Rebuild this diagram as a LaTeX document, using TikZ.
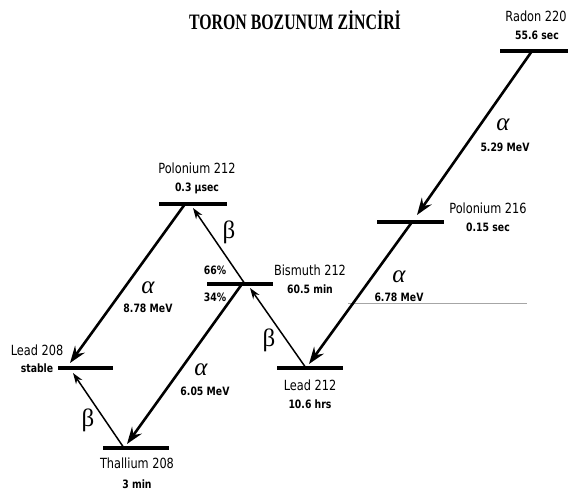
\documentclass[tikz,border=0pt]{standalone}
\usepackage{fontspec}
\setmainfont{DejaVu Sans Condensed}
\newfontfamily\titlefont{Liberation Serif}
\newfontfamily\greekfont{Liberation Serif}
\usetikzlibrary{arrows.meta}
\tikzset{
  levelbar/.style={line width=4pt},
  alphaarrow/.style={line width=2.6pt,-{Stealth[length=17pt,width=12pt,inset=6pt]}},
  betaarrow/.style={line width=1.5pt,-{Stealth[length=11pt,width=7.5pt,inset=3.5pt]}},
  nm/.style={inner sep=0pt,xscale=0.9,font=\fontsize{14}{14}\selectfont},
  sub/.style={inner sep=0pt,xscale=0.9,font=\bfseries\fontsize{11.5}{12}\selectfont},
  gl/.style={inner sep=0pt,font=\greekfont\fontsize{25}{25}\selectfont},
}
\begin{document}
\begin{tikzpicture}[x=1pt,y=-1pt]
\useasboundingbox (0,0) rectangle (568,495);
% title
\node[inner sep=0pt,font=\titlefont\bfseries\fontsize{22}{22}\selectfont,xscale=0.72] (title) at (295,20) {TORON BOZUNUM ZİNCİRİ};
% level bars
\draw[levelbar] (500,51) -- (568,51);
\draw[levelbar] (377,222) -- (444,222);
\draw[levelbar] (159,204) -- (227,204);
\draw[levelbar] (207,284) -- (273,284);
\draw[levelbar] (277,368) -- (343,368);
\draw[levelbar] (58,368) -- (113,368);
\draw[levelbar] (103,448) -- (169,448);
% thin gray line
\draw[gray!70,line width=0.6pt] (348,303) -- (527,303);
% connector end points
\coordinate (rnS) at (532,51);
\coordinate (po216T) at (417,215);
\coordinate (po216S) at (412,222);
\coordinate (pb212T) at (309,364);
\coordinate (pb212S) at (306,368);
\coordinate (bi212T) at (250,288);
\coordinate (bi212S) at (245,284);
\coordinate (bi212A) at (242,284);
\coordinate (po212T) at (193,208);
\coordinate (po212S) at (185,204);
\coordinate (tlT) at (127,444);
\coordinate (tlS) at (124,448);
\coordinate (pb208T) at (70,363);
\coordinate (pb208B) at (73,373);
% arrows
\draw[alphaarrow] (rnS) -- (po216T);
\draw[alphaarrow] (po216S) -- (pb212T);
\draw[betaarrow] (pb212S) -- (bi212T);
\draw[betaarrow] (bi212S) -- (po212T);
\draw[alphaarrow] (bi212A) -- (tlT);
\draw[alphaarrow] (po212S) -- (pb208T);
\draw[betaarrow] (tlS) -- (pb208B);
% names
\node[nm] (rn1) at (536,16) {Radon 220};
\node[sub] (rn2) at (537,35) {55.6 sec};
\node[nm] (p216a) at (488,208) {Polonium 216};
\node[sub] (p216b) at (488,227) {0.15 sec};
\node[nm] (p212a) at (197,168) {Polonium 212};
\node[sub] (p212b) at (197,188) {0.3 µsec};
\node[nm] (bia) at (310,270) {Bismuth 212};
\node[sub] (bib) at (310,289) {60.5 min};
\node[sub] (p66) at (215,270) {66\%};
\node[sub] (p34) at (215,297) {34\%};
\node[nm] (l212a) at (310,385) {Lead 212};
\node[sub] (l212b) at (310,404) {10.6 hrs};
\node[nm] (l208a) at (37,350) {Lead 208};
\node[sub] (l208b) at (37,368) {stable};
\node[nm] (tla) at (137,463) {Thallium 208};
\node[sub] (tlb) at (137,484) {3 min};
% decay labels
\node[gl] (a1) at (503,125) {\itshape α};
\node[sub] (e1) at (505,147) {5.29 MeV};
\node[gl] (a2) at (399,277) {\itshape α};
\node[sub] (e2) at (399,297) {6.78 MeV};
\node[gl] (a3) at (148,288) {\itshape α};
\node[sub] (e3) at (148,308) {8.78 MeV};
\node[gl] (a4) at (201,370) {\itshape α};
\node[sub] (e4) at (205,391) {6.05 MeV};
\node[gl] (b1) at (229,232) {β};
\node[gl] (b2) at (269,340) {β};
\node[gl] (b3) at (88,420) {β};
\end{tikzpicture}
\end{document}
